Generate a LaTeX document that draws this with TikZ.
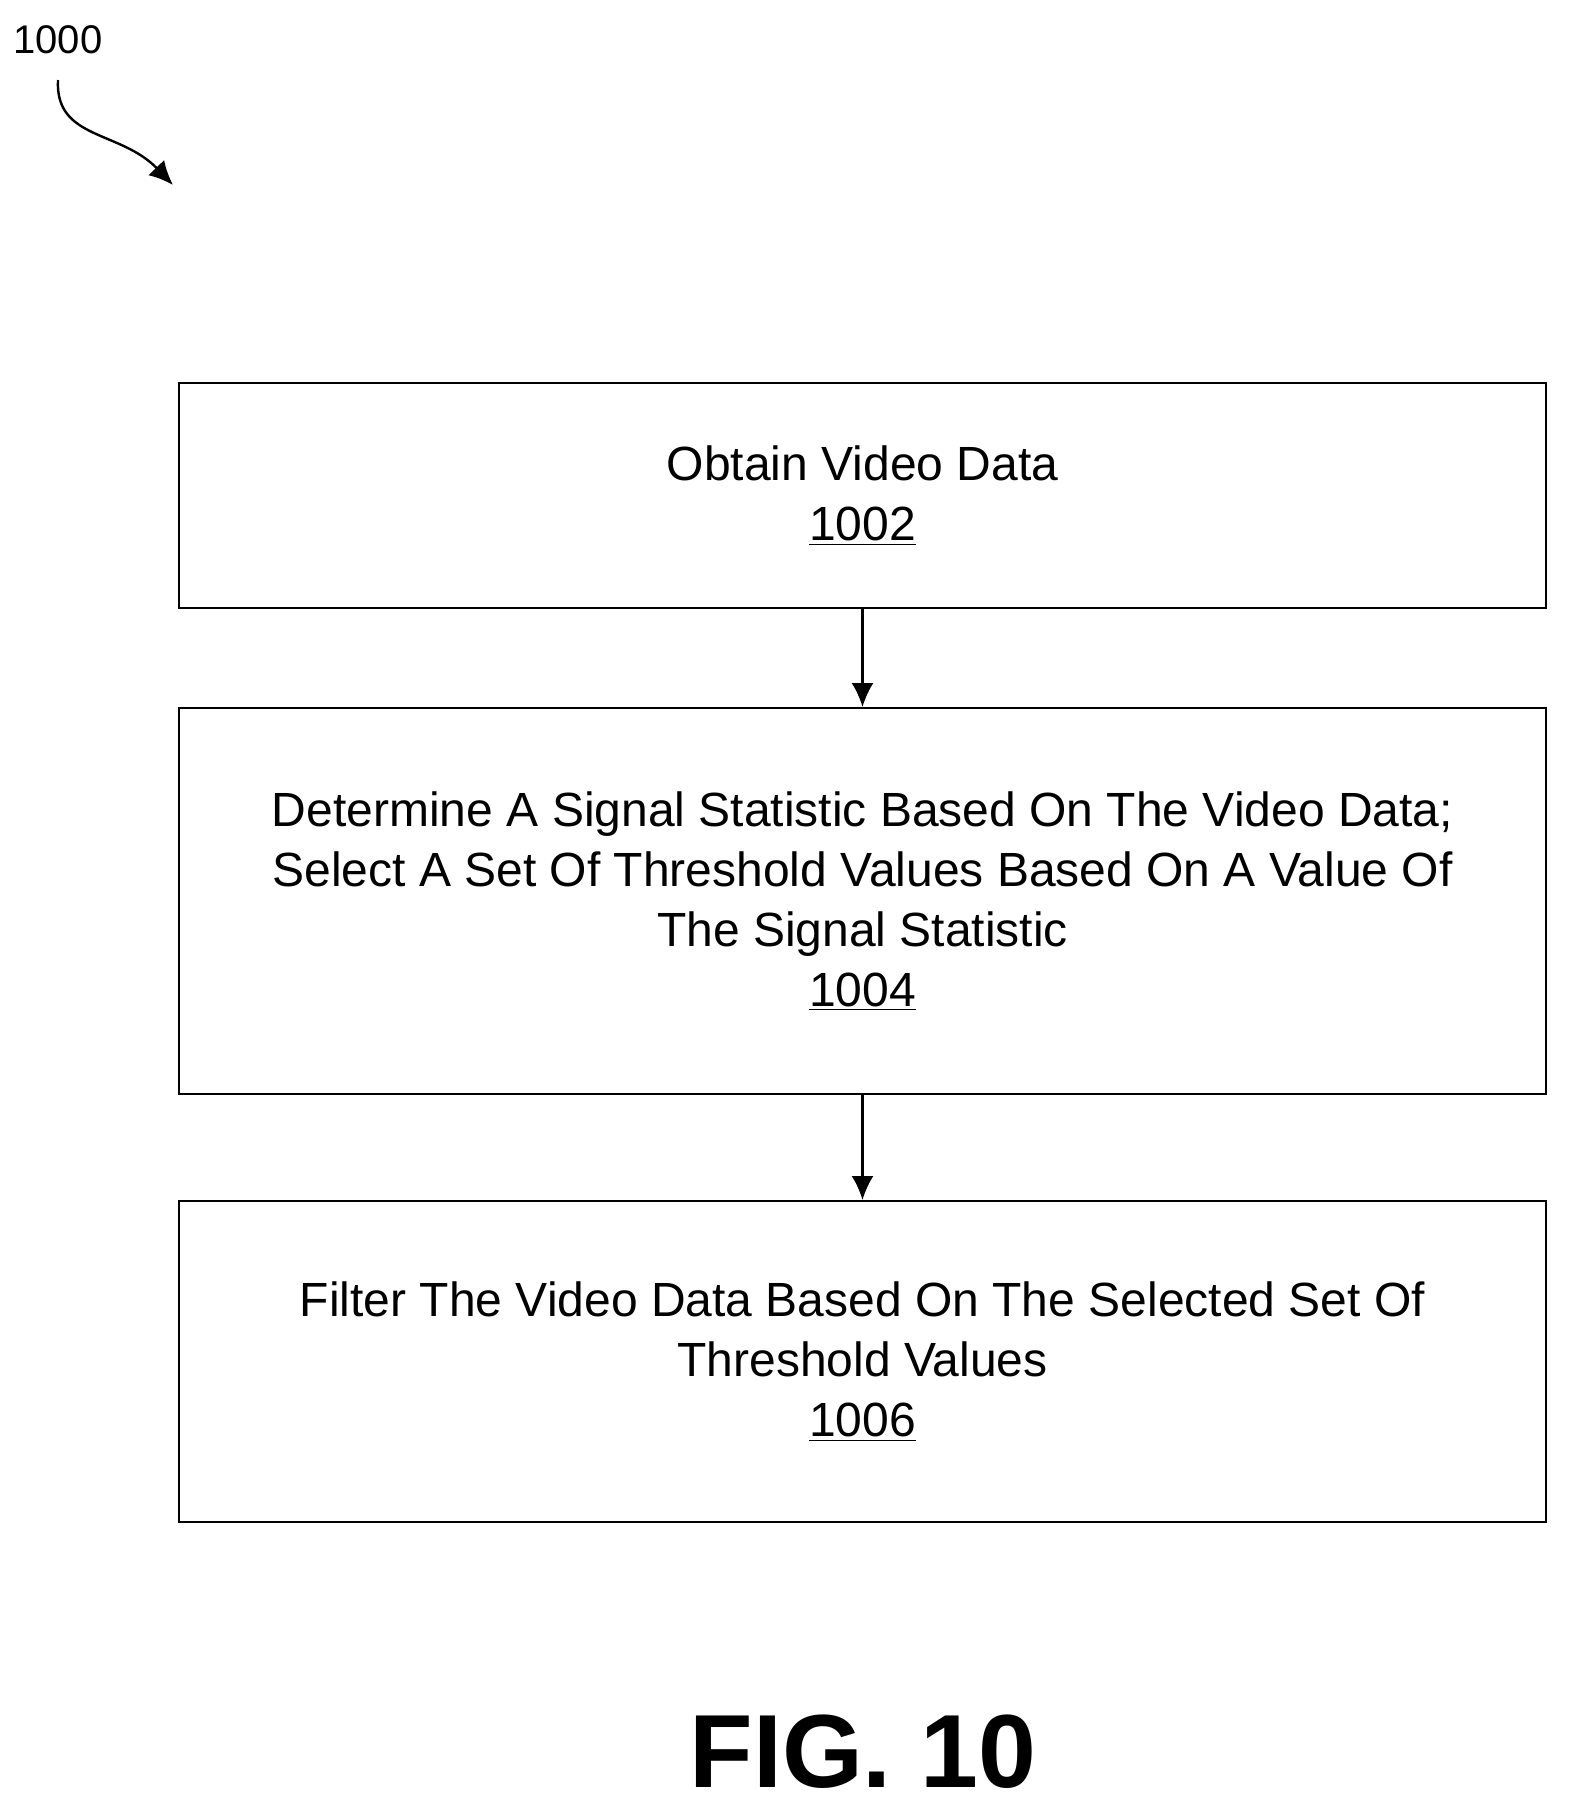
\documentclass[tikz,border=0pt]{standalone}
\usepackage{fontspec}
\setmainfont{Liberation Sans}
\usetikzlibrary{positioning,arrows.meta}
\tikzstyle{stepbox} = [draw, rectangle, line width=1pt, minimum width=683.5pt, align=center, font=\fontsize{24}{30}\selectfont]
\tikzstyle{link} = [-{Latex[length=12pt,width=11pt]}, line width=1.2pt]
\begin{document}
\begin{tikzpicture}[x=0.5pt, y=-0.5pt]
    \useasboundingbox (0,0) rectangle (1569,1811);
    \node [stepbox, minimum height=112.5pt] (obtain) at (862.5,495.5) {Obtain Video Data\\\underline{1002}};
    \node [stepbox, minimum height=193pt] (determine) at (862.5,901) {Determine A Signal Statistic Based On The Video Data;\\Select A Set Of Threshold Values Based On A Value Of\\The Signal Statistic\\\underline{1004}};
    \node [stepbox, minimum height=160.5pt] (filter) at (862.5,1361.5) {Filter The Video Data Based On The Selected Set Of\\Threshold Values\\\underline{1006}};
    \node [font=\fontsize{20}{24}\selectfont] (fignum) at (58,40) {1000};
    \node [font=\bfseries\fontsize{52}{60}\selectfont] (caption) at (863,1752) {FIG. 10};
    \coordinate (tip) at (173,185);

    \draw [link] (obtain) -- (determine);
    \draw [link] (determine) -- (filter);
    \draw [link] (58,80) .. controls (55,140) and (120,130) .. (tip);
\end{tikzpicture}
\end{document}
